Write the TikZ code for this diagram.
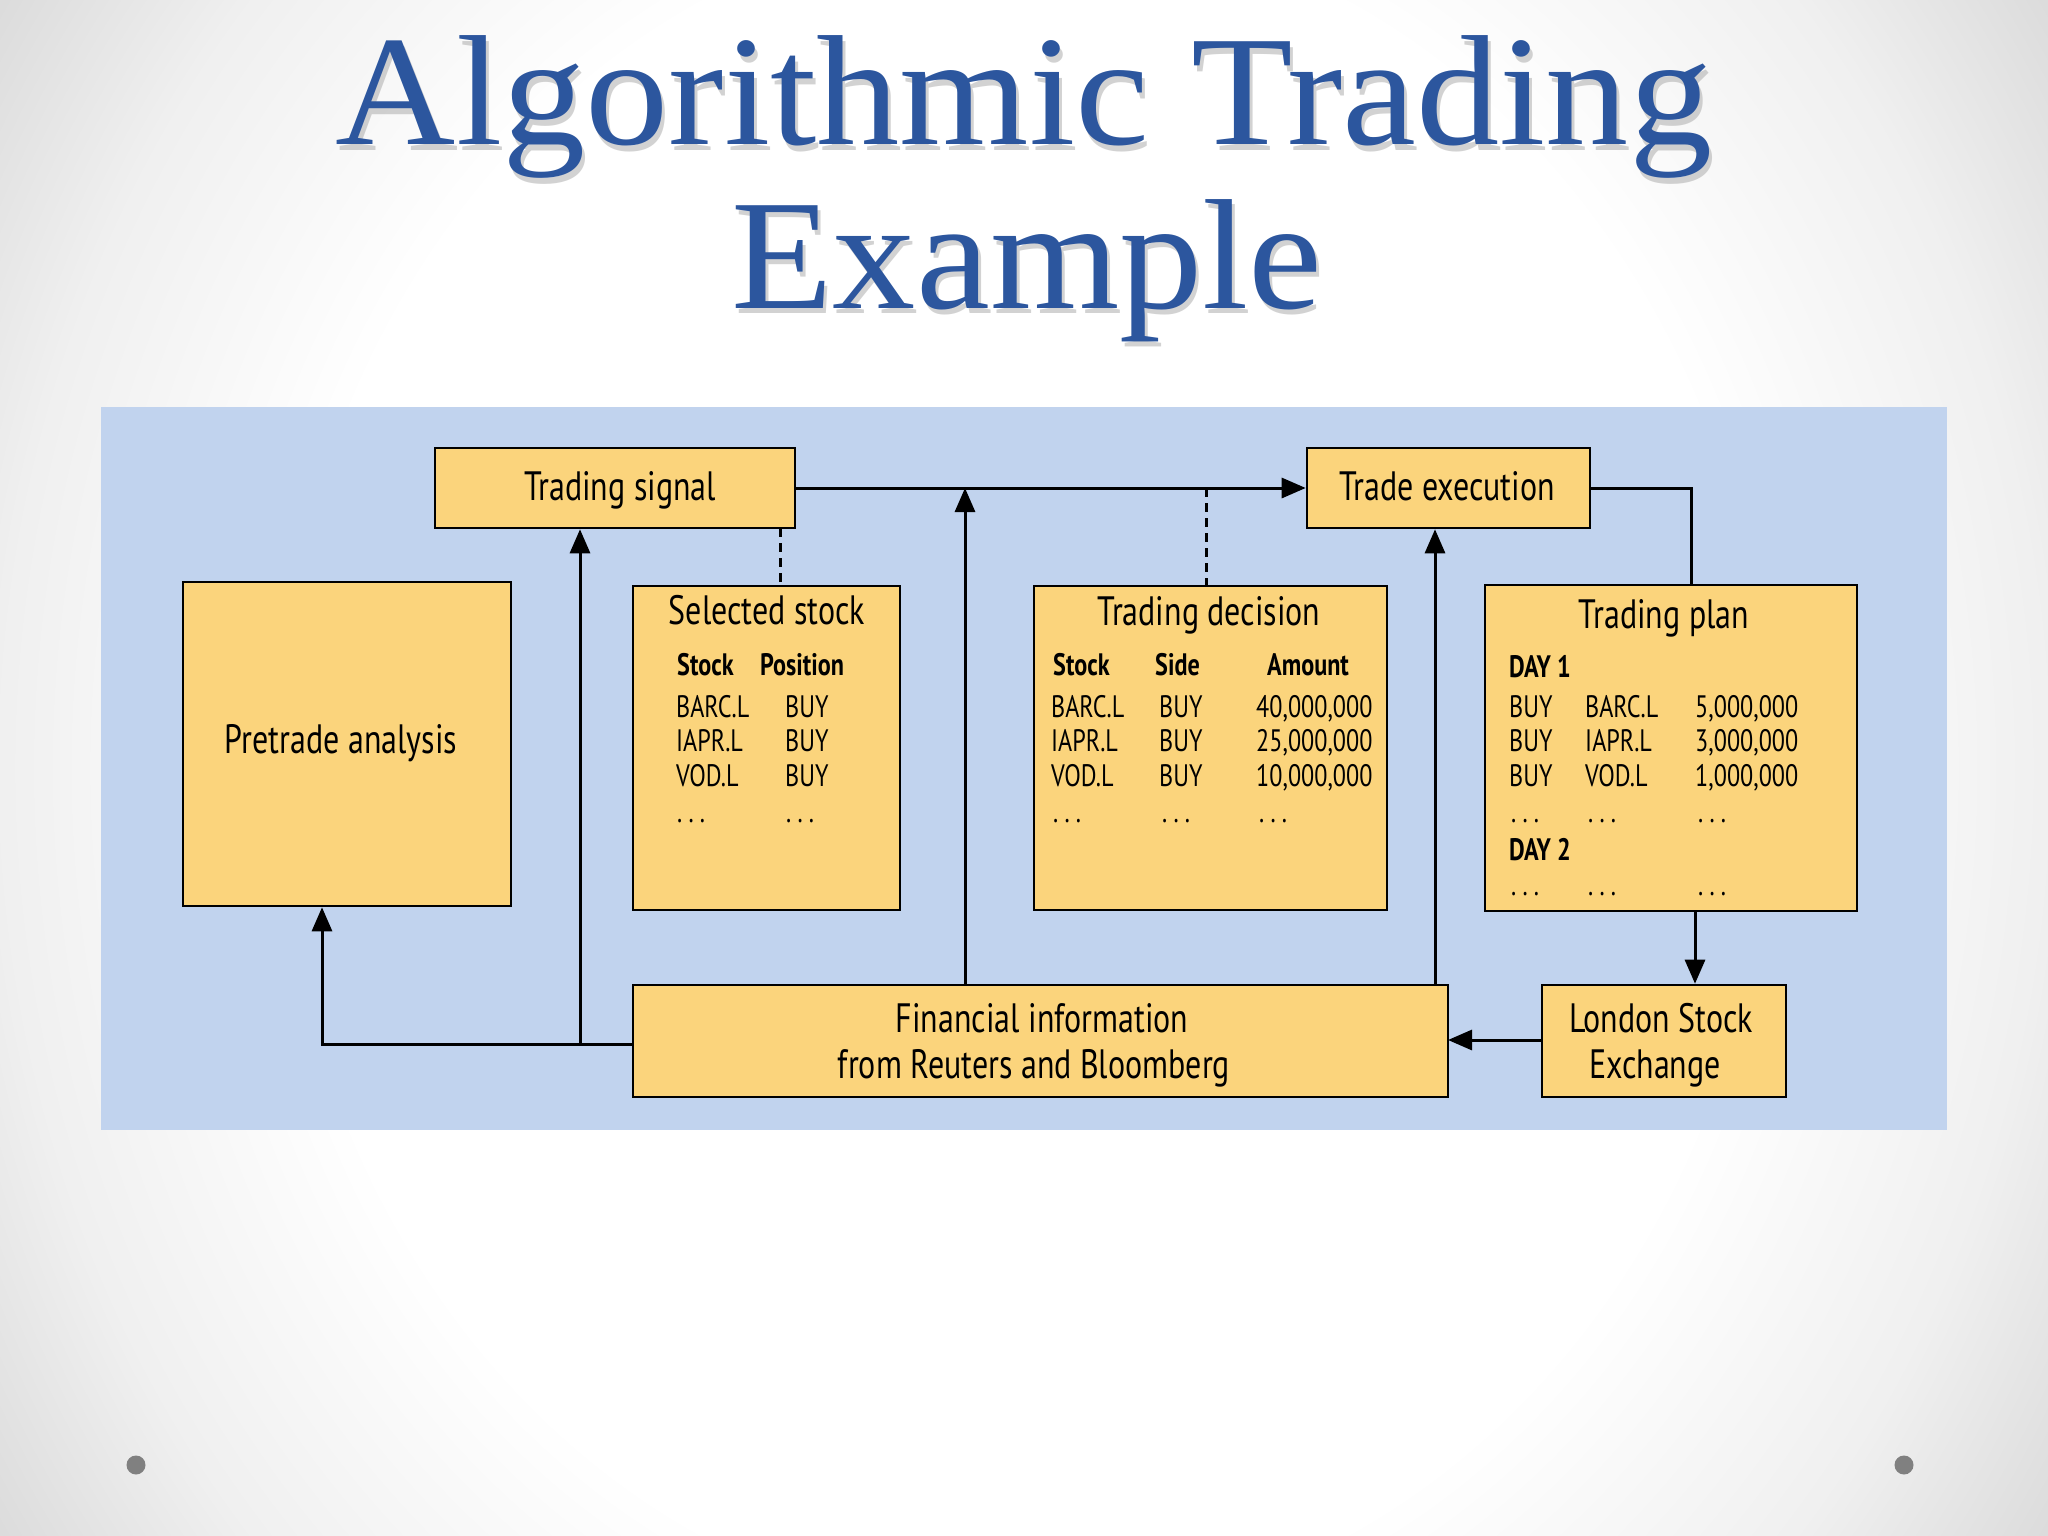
\documentclass[tikz,border=0pt]{standalone}
\usepackage{fontspec}
\usetikzlibrary{arrows.meta}
\newfontfamily\lab[FakeStretch=0.78]{PT Sans}
\newfontfamily\ttl[FakeStretch=1.06]{Liberation Serif}
\definecolor{panelblue}{RGB}{193,211,238}
\definecolor{boxyellow}{RGB}{251,212,124}
\definecolor{titleblue}{RGB}{44,86,158}
\newcommand\tabdots{.\hspace{6.2pt}.\hspace{6.2pt}.}
\pgfdeclareradialshading{slidebg}{\pgfpoint{0bp}{0bp}}{color(0bp)=(white); color(18bp)=(white); color(25bp)=(black!6); color(30bp)=(black!14); color(50bp)=(black!16)}
\tikzset{
  box/.style={draw=black, line width=2.6pt, fill=boxyellow, inner sep=0pt},
  conn/.style={line width=3pt},
  arr/.style={conn, -{Triangle[length=24pt,width=20pt]}},
  dashline/.style={line width=3pt, dash pattern=on 9pt off 6pt},
  lbl/.style={inner sep=0pt, anchor=base, font=\lab\fontsize{41}{46}\selectfont},
  cell/.style={inner sep=0pt, anchor=base west, font=\lab\fontsize{31}{34}\selectfont},
  hcell/.style={inner sep=0pt, anchor=base west, font=\lab\bfseries\fontsize{31}{34}\selectfont},
  ttlstyle/.style={inner sep=0pt, anchor=base, font=\ttl\fontsize{157}{170}\selectfont},
}
\begin{document}
\begin{tikzpicture}[x=1pt,y=-1pt]
\useasboundingbox (0,0) rectangle (2048,1536);
% background
\begin{scope}
\clip (0,0) rectangle (2048,1536);
\shade[shading=slidebg] (0,-400) rectangle (2048,1936);
\end{scope}
% title
\node[ttlstyle, text=black!35, opacity=0.5] (t1s) at (1027,150) {Algorithmic Trading};
\node[ttlstyle, text=black!35, opacity=0.5] (t2s) at (1030,313) {Example};
\node[ttlstyle, text=titleblue] (t1) at (1024,145) {Algorithmic Trading};
\node[ttlstyle, text=titleblue] (t2) at (1027,308) {Example};
% panel
\fill[panelblue] (101,407) rectangle (1947,1130);
% boxes
\node[box, minimum width=360pt, minimum height=80pt] (ts) at (615,488) {};
\node[box, minimum width=328pt, minimum height=324pt] (pa) at (347,744) {};
\node[box, minimum width=267pt, minimum height=324pt] (ss) at (766.5,748) {};
\node[box, minimum width=353pt, minimum height=324pt] (td) at (1210.5,748) {};
\node[box, minimum width=283pt, minimum height=80pt] (te) at (1448.5,488) {};
\node[box, minimum width=372pt, minimum height=326pt] (tp) at (1671,748) {};
\node[box, minimum width=815pt, minimum height=112pt] (fin) at (1040.5,1041) {};
\node[box, minimum width=244pt, minimum height=112pt] (lse) at (1664,1041) {};
% simple labels
\node[lbl] (tsl) at (620,500) {Trading signal};
\node[lbl] (tel) at (1447,500) {Trade execution};
\node[lbl] (pal) at (341,753) {Pretrade analysis};
\node[lbl] (finl1) at (1042,1032) {Financial information};
\node[lbl] (finl2) at (1034,1078) {from Reuters and Bloomberg};
\node[lbl] (lsel1) at (1661,1032) {London Stock};
\node[lbl] (lsel2) at (1655,1078) {Exchange};
% selected stock
\node[lbl] (ssl) at (767,624) {Selected stock};
\node[hcell] (ssh1) at (677,675) {Stock};
\node[hcell] (ssh2) at (760,675) {Position};
\node[cell] (ss11) at (676,717) {BARC.L};
\node[cell] (ss12) at (785,717) {BUY};
\node[cell] (ss21) at (676,751) {IAPR.L};
\node[cell] (ss22) at (785,751) {BUY};
\node[cell] (ss31) at (676,786) {VOD.L};
\node[cell] (ss32) at (785,786) {BUY};
\node[cell] (ss41) at (677,822) {\tabdots};
\node[cell] (ss42) at (786,822) {\tabdots};
% trading decision
\node[lbl] (tdl) at (1209,625) {Trading decision};
\node[hcell] (tdh1) at (1053,675) {Stock};
\node[hcell] (tdh2) at (1155,675) {Side};
\node[hcell] (tdh3) at (1267,675) {Amount};
\node[cell] (td11) at (1051,717) {BARC.L};
\node[cell] (td12) at (1159,717) {BUY};
\node[cell] (td13) at (1256,717) {40,000,000};
\node[cell] (td21) at (1051,751) {IAPR.L};
\node[cell] (td22) at (1159,751) {BUY};
\node[cell] (td23) at (1256,751) {25,000,000};
\node[cell] (td31) at (1051,786) {VOD.L};
\node[cell] (td32) at (1159,786) {BUY};
\node[cell] (td33) at (1256,786) {10,000,000};
\node[cell] (td41) at (1053,822) {\tabdots};
\node[cell] (td42) at (1162,822) {\tabdots};
\node[cell] (td43) at (1259,822) {\tabdots};
% trading plan
\node[lbl] (tpl) at (1664,628) {Trading plan};
\node[hcell] (tpd1) at (1509,677) {DAY 1};
\node[cell] (tp11) at (1509,717) {BUY};
\node[cell] (tp12) at (1585,717) {BARC.L};
\node[cell] (tp13) at (1695,717) {5,000,000};
\node[cell] (tp21) at (1509,751) {BUY};
\node[cell] (tp22) at (1585,751) {IAPR.L};
\node[cell] (tp23) at (1695,751) {3,000,000};
\node[cell] (tp31) at (1509,786) {BUY};
\node[cell] (tp32) at (1585,786) {VOD.L};
\node[cell] (tp33) at (1695,786) {1,000,000};
\node[cell] (tp41) at (1511,822) {\tabdots};
\node[cell] (tp42) at (1588,822) {\tabdots};
\node[cell] (tp43) at (1698,822) {\tabdots};
\node[hcell] (tpd2) at (1509,860) {DAY 2};
\node[cell] (tp51) at (1511,895) {\tabdots};
\node[cell] (tp52) at (1588,895) {\tabdots};
\node[cell] (tp53) at (1698,895) {\tabdots};
% junction coordinates
\coordinate (j1) at (965,488);
\coordinate (j2) at (1435,488);
\coordinate (d1) at (780,528);
\coordinate (d2) at (1206,488);
\coordinate (j3) at (1691,488);
\coordinate (j4) at (1695,911);
\coordinate (j5) at (1448,1040);
\coordinate (j6) at (633,1044);
\coordinate (j7) at (322,1044);
\coordinate (j8) at (580,1044);
% connectors
\draw[arr] (ts.east) -- (te.west);
\draw[arr] (fin.north -| j1) -- (j1);
\draw[dashline] (d1) -- (d1 |- ss.north);
\draw[dashline] (d2) -- (d2 |- td.north);
\draw[arr] (fin.north -| j2) -- (te.south -| j2);
\draw[conn] (te.east) -- (j3) -- (j3 |- tp.north);
\draw[arr] (j4) -- (j4 |- lse.north);
\draw[arr] (lse.west |- j5) -- (j5);
\draw[arr] (j6) -- (j7) -- (j7 |- pa.south);
\draw[arr] (j8) -- (j8 |- ts.south);
% slide dots
\fill[black!50] (136,1465) circle (9.5pt);
\fill[black!50] (1904,1465) circle (9.5pt);
\end{tikzpicture}
\end{document}
